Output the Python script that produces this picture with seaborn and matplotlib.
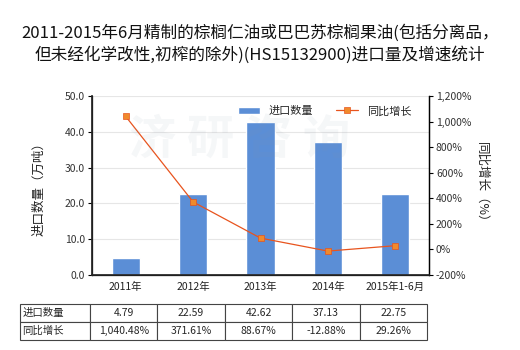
import numpy as np
import pandas as pd
import matplotlib
matplotlib.use("Agg")
import matplotlib.pyplot as plt
import seaborn as sns

categories = ["2011年", "2012年", "2013年", "2014年", "2015年1-6月"]
import_qty = [4.79, 22.59, 42.62, 37.13, 22.75]
growth = [1040.48, 371.61, 88.67, -12.88, 29.26]
qty_labels = ["4.79", "22.59", "42.62", "37.13", "22.75"]
growth_labels = ["1,040.48%", "371.61%", "88.67%", "-12.88%", "29.26%"]

sns.set_theme(style="white")
plt.rcParams['font.family'] = ['Noto Sans CJK SC', 'DejaVu Sans']

fig = plt.figure(figsize=(5.2, 3.5), dpi=100)
ax = fig.add_axes([92/520, 1-275/350, (429-92)/520, (275-96)/350])

df = pd.DataFrame({"cat": categories, "qty": import_qty, "growth": growth})
bar_color = "#5B8ED6"
line_color = "#E8541E"

sns.barplot(data=df, x="cat", y="qty", color=bar_color, width=0.42, ax=ax,
            saturation=1, label="进口数量", zorder=3)
if ax.get_legend():
    ax.get_legend().remove()
ax.set_ylim(0, 50)
ax.set_yticks(np.arange(0, 51, 10))
ax.set_yticklabels([f"{v:.1f}" for v in np.arange(0, 51, 10)], fontsize=7.5, color="#333333")
ax.set_xlim(-0.5, 4.5)
ax.set_xlabel("")
ax.set_ylabel("进口数量（万吨）", fontsize=9, color="#222222", labelpad=14)
ax.tick_params(axis="x", labelsize=7.5, colors="#222222", length=0, pad=5)
ax.tick_params(axis="y", length=3, width=0.8, color="black", left=True, pad=2)
ax.yaxis.grid(True, color="#E6E6E6", linewidth=0.8, zorder=0)
ax.set_axisbelow(True)
ax.spines["top"].set_visible(False)
for s in ["left", "bottom", "right"]:
    ax.spines[s].set_color("black")
    ax.spines[s].set_linewidth(0.9)

ax2 = ax.twinx()
sns.lineplot(x=np.arange(len(categories)), y=growth, ax=ax2, color=line_color,
             linewidth=0.9, marker="s", markersize=4, markerfacecolor="#F08A2C",
             markeredgecolor=line_color, markeredgewidth=0.5, label="同比增长", zorder=5)
ax2.set_ylim(-200, 1200)
ticks2 = np.arange(-200, 1201, 200)
ax2.set_yticks(ticks2)
ax2.set_yticklabels([f"{v:,}%" for v in ticks2], fontsize=7.5, color="#333333")
ax2.tick_params(axis="y", length=3, width=0.8, color="black", right=True, pad=2)
ax2.set_ylabel("同比增长（%）", fontsize=9, color="#222222", rotation=-90, labelpad=12)
ax2.spines["top"].set_visible(False)
ax2.spines["right"].set_color("black")
ax2.spines["right"].set_linewidth(0.9)
ax2.grid(False)
ax2.set_xlim(-0.5, 4.5)

# legend
h1, l1 = ax.get_legend_handles_labels()
h2, l2 = ax2.get_legend_handles_labels()
if ax2.get_legend():
    ax2.get_legend().remove()
ax2.legend(h1 + h2, l1 + l2, loc="upper center", bbox_to_anchor=(0.69, 1.0), ncol=2,
           frameon=False, fontsize=8, handlelength=2.0, columnspacing=2.0)

# watermark
fig.text(0.46, 0.6, "济 研 咨 询", fontsize=34, color="#8899AA", alpha=0.08,
         ha="center", va="center", fontweight="bold")

# title
fig.text(0.5, 1-33/350, "2011-2015年6月精制的棕榈仁油或巴巴苏棕榈果油(包括分离品，", fontsize=12,
         ha="center", va="center", color="#111111")
fig.text(0.5, 1-55/350, "但未经化学改性,初榨的除外)(HS15132900)进口量及增速统计", fontsize=12,
         ha="center", va="center", color="#111111")

# table
ax_w = 429 - 92
ax_h = 275 - 96
x0 = (20 - 92) / ax_w
x1 = (427 - 92) / ax_w
y0 = (275 - 340) / ax_h
y1 = (275 - 304) / ax_h
cell_text = [["进口数量"] + qty_labels, ["同比增长"] + growth_labels]
first_w = 70
other_w = (427 - 90) / 5
tbl = ax.table(cellText=cell_text, bbox=[x0, y0, x1 - x0, y1 - y0],
               colWidths=[first_w] + [other_w] * 5, cellLoc="center")
tbl.auto_set_font_size(False)
tbl.set_fontsize(7.5)
for (r, c), cell in tbl.get_celld().items():
    cell.set_edgecolor("#444444")
    cell.set_linewidth(0.8)
    if c == 0:
        cell.set_text_props(ha="left")
        cell.PAD = 0.03

fig.savefig("out.png", dpi=100)
